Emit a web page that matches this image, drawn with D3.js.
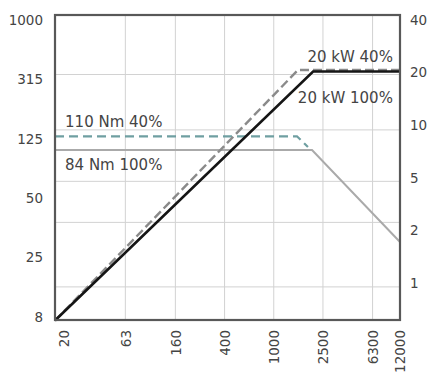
<!DOCTYPE html>
<html>
<head>
<meta charset="utf-8">
<script src="https://cdn.jsdelivr.net/npm/d3@7"></script>
<style>
  html, body { margin: 0; padding: 0; background: #fff; }
  svg { display: block; }
  text { font-family: "DejaVu Sans", Verdana, sans-serif; fill: #444; }
</style>
</head>
<body>
<svg id="chart" width="431" height="374"></svg>
<script>
// ---- data ----
const xTicks = [20, 63, 160, 400, 1000, 2500, 6300, 12000];   // rpm
const leftTicks = [1000, 315, 125, 50, 25, 8];                  // Nm
const rightTicks = [40, 20, 10, 5, 2, 1];                       // kW
const gridPower = [19.5, 9.4, 4.7, 2.3, 0.95];                  // horizontal grid (kW)

const power100Rpm = [17, 2080, 12000];
const power100Kw  = [0.61, 20.3, 20.3];
const power40Rpm  = [17, 1570, 12000];
const power40Kw   = [0.61, 20.7, 20.7];
const torque40Rpm = [17, 1540, 1890];
const torque40Nm  = [130, 130, 110];
const torque100Rpm = [17, 2040, 12000];
const torque100Nm  = [105, 105, 30];

const labels = [
  {text: "110 Nm 40%", side: "left",  rpm: 20.5, nm: 150},
  {text: "84 Nm 100%", side: "left",  rpm: 20.5, nm: 77},
  {text: "20 kW 40%",  side: "right", rpm: 9200, kw: 23},
  {text: "20 kW 100%", side: "right", rpm: 9200, kw: 13.4}
];

// ---- layout ----
const W = 431, H = 374;
const m = {left: 55, top: 15, right: 31, bottom: 54};
const x0 = m.left, x1 = W - m.right, y0 = m.top, y1 = H - m.bottom;

const svg = d3.select("#chart");

const x = d3.scaleLog().domain([17, 10500]).range([x0, x1]).clamp(true);

const yLeftPos = d3.scalePoint().domain(leftTicks).range([y0 + 5, y1 - 3]);
const yL = d3.scaleLog().domain(leftTicks).range(leftTicks.map(d => yLeftPos(d)));
const yRightPos = d3.scalePoint().domain(rightTicks).range([y0 + 5, y0 + 268]);
const yR = d3.scaleLog().domain(rightTicks).range(rightTicks.map(d => yRightPos(d)));

// grid
const grid = svg.append("g").attr("stroke", "#d2d2d2").attr("stroke-width", 1);
grid.selectAll("line.v").data(xTicks.slice(1, -1)).join("line")
  .attr("x1", d => x(d)).attr("x2", d => x(d))
  .attr("y1", y0).attr("y2", y1);
grid.selectAll("line.h").data(gridPower).join("line")
  .attr("x1", x0).attr("x2", x1)
  .attr("y1", d => yR(d)).attr("y2", d => yR(d));

// series
function series(rpm, vals, ys) {
  return d3.line().x((d, i) => x(rpm[i])).y((d, i) => ys(vals[i]))(vals);
}
svg.append("path").attr("d", series(torque100Rpm, torque100Nm, yL))
  .attr("fill", "none").attr("stroke", "#aaaaaa").attr("stroke-width", 2);
svg.append("path").attr("d", series(torque40Rpm, torque40Nm, yL))
  .attr("fill", "none").attr("stroke", "#6f9fa1").attr("stroke-width", 2.2)
  .attr("stroke-dasharray", "9,5");
svg.append("path").attr("d", series(power40Rpm, power40Kw, yR))
  .attr("fill", "none").attr("stroke", "#8a8a8a").attr("stroke-width", 2.4)
  .attr("stroke-dasharray", "9,4");
svg.append("path").attr("d", series(power100Rpm, power100Kw, yR))
  .attr("fill", "none").attr("stroke", "#151515").attr("stroke-width", 2.6);

// frame
svg.append("rect").attr("x", x0).attr("y", y0)
  .attr("width", x1 - x0).attr("height", y1 - y0)
  .attr("fill", "none").attr("stroke", "#585858").attr("stroke-width", 2.2);

// axes
const axL = svg.append("g").attr("transform", `translate(${x0},0)`)
  .call(d3.axisLeft(yL).tickValues(leftTicks).tickSize(0).tickPadding(12).tickFormat(d3.format("d")));
const axR = svg.append("g").attr("transform", `translate(${x1},0)`)
  .call(d3.axisRight(yR).tickValues(rightTicks).tickSize(0).tickPadding(10).tickFormat(d3.format("d")));
const axB = svg.append("g").attr("transform", `translate(0,${y1})`)
  .call(d3.axisBottom(x).tickValues(xTicks).tickSize(0).tickFormat(d3.format("d")));
[axL, axR, axB].forEach(a => {
  a.select(".domain").remove();
  a.selectAll("text").attr("font-family", null).attr("font-size", 13.5).attr("fill", "#444");
});
axB.selectAll("text")
  .attr("transform", "rotate(-90)")
  .attr("text-anchor", "end")
  .attr("x", -10).attr("y", 0).attr("dy", "0.35em");

// annotations
svg.append("g").selectAll("text").data(labels).join("text")
  .attr("x", d => x(d.rpm))
  .attr("y", d => d.side === "left" ? yL(d.nm) : yR(d.kw))
  .attr("text-anchor", d => d.side === "left" ? "start" : "end")
  .attr("font-size", 15)
  .text(d => d.text);
</script>
</body>
</html>
